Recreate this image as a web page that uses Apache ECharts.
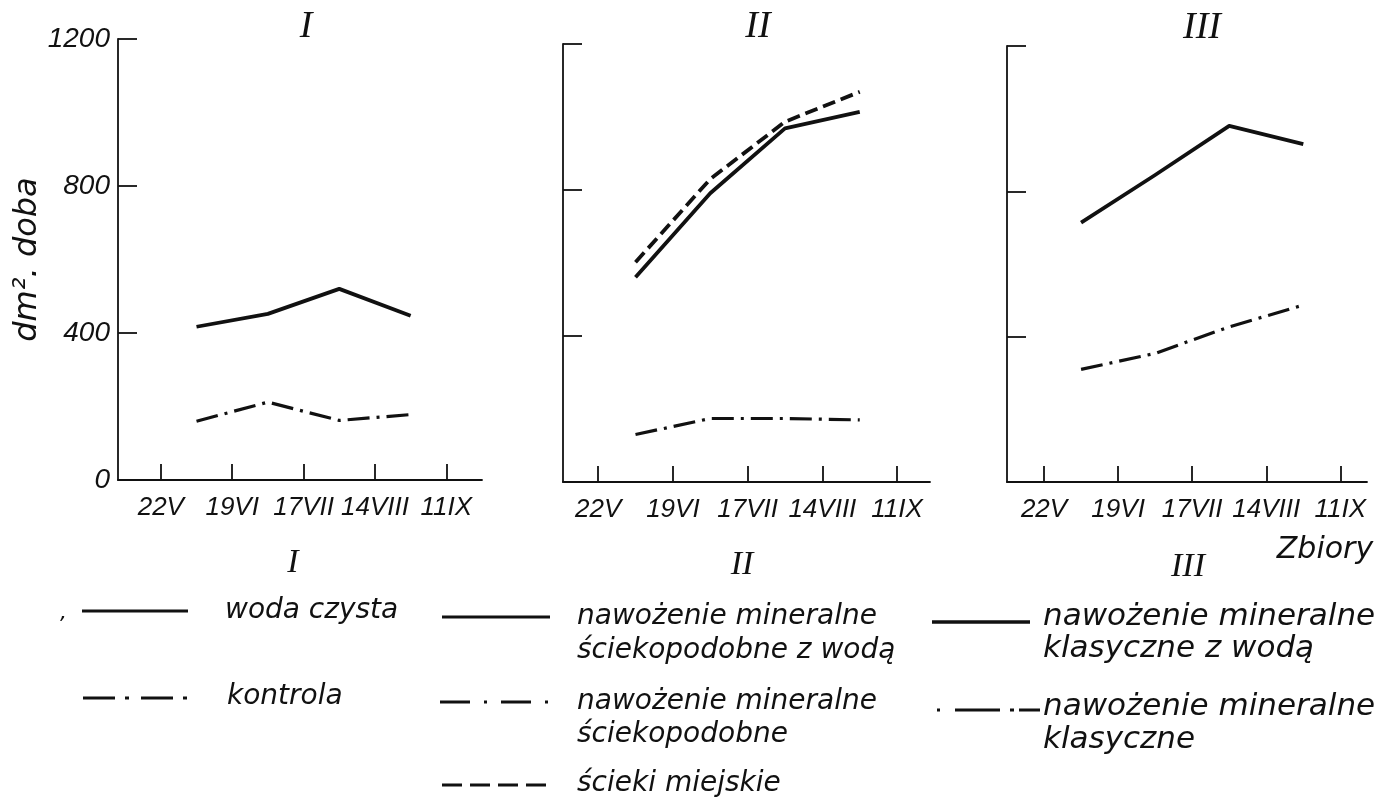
<!DOCTYPE html>
<html>
<head>
<meta charset="utf-8">
<script src="https://cdn.jsdelivr.net/npm/echarts@6/dist/echarts.min.js"></script>
<style>
html,body{margin:0;padding:0;background:#fff;}
#chart{width:1399px;height:807px;}
</style>
</head>
<body>
<div id="chart"></div>
<script>
// ---- data ----
const harvestDates = ['22V', '19VI', '17VII', '14VIII', '11IX'];
const yTicks = [0, 400, 800, 1200];
// values for the 4 periods between successive harvests
const wodaCzysta = [417, 452, 520, 447];
const kontrola = [160, 212, 162, 178];
const sciekopodobneZWoda = [561, 791, 969, 1014];
const sciekopodobne = [130, 174, 174, 170];
const sciekiMiejskie = [602, 830, 987, 1069];
const klasyczneZWoda = [714, 845, 980, 930];
const klasyczne = [310, 354, 427, 487];

// ---- styles ----
const INK = '#111';
const FONT = 'DejaVu Sans';
const NARROW = 'Liberation Sans';
const SERIF = 'Liberation Serif';
const DASHDOT = [22, 7, 3, 7];
const DASHED = [13, 6];

function pts(vals) { return vals.map((v, i) => [i + 1.5, v]); }

const grids = [
  { left: 118, top: 39, width: 364, height: 441, xmin: 0.4, xmax: 5.5 },
  { left: 563, top: 44, width: 367, height: 438, xmin: 0.53, xmax: 5.44 },
  { left: 1007, top: 46, width: 360, height: 436, xmin: 0.5, xmax: 5.36 }
];

const axisLine = { show: true, onZero: false, lineStyle: { color: INK, width: 1.8 } };

const xAxes = grids.map((g, i) => ({
  type: 'value', gridIndex: i, min: g.xmin, max: g.xmax,
  axisLine: axisLine,
  axisTick: { show: true, inside: true, length: 16, customValues: [1, 2, 3, 4, 5], lineStyle: { color: INK, width: 1.8 } },
  axisLabel: {
    customValues: [1, 2, 3, 4, 5],
    formatter: v => harvestDates[Math.round(v) - 1] || '',
    margin: 15, fontSize: 26, fontStyle: 'italic', fontFamily: NARROW, color: INK
  },
  splitLine: { show: false }
}));

const yAxes = grids.map((g, i) => ({
  type: 'value', gridIndex: i, min: 0, max: 1200, interval: 400,
  name: i === 0 ? 'dm\u00B2. doba' : '',
  nameLocation: 'middle', nameRotate: 90, nameGap: 60,
  nameTextStyle: { fontSize: 32, fontStyle: 'italic', fontFamily: FONT, color: INK },
  axisLine: axisLine,
  axisTick: { show: true, inside: true, length: 19, customValues: [400, 800, 1200], lineStyle: { color: INK, width: 1.8 } },
  axisLabel: {
    show: i === 0, customValues: yTicks, margin: 8,
    formatter: v => String(v),
    fontSize: 28, fontStyle: 'italic', fontFamily: NARROW, color: INK
  },
  splitLine: { show: false }
}));

function line(name, vals, gi, type, width) {
  return {
    name: name, type: 'line', xAxisIndex: gi, yAxisIndex: gi,
    data: pts(vals), symbol: 'none', silent: true, animation: false,
    lineStyle: { color: INK, width: width, type: type, cap: 'butt', join: 'round' }
  };
}

const series = [
  line('woda czysta', wodaCzysta, 0, 'solid', 3.8),
  line('kontrola', kontrola, 0, DASHDOT, 3.2),
  line('nawożenie mineralne ściekopodobne z wodą', sciekopodobneZWoda, 1, 'solid', 3.8),
  line('ścieki miejskie', sciekiMiejskie, 1, DASHED, 3.8),
  line('nawożenie mineralne ściekopodobne', sciekopodobne, 1, DASHDOT, 3.2),
  line('nawożenie mineralne klasyczne z wodą', klasyczneZWoda, 2, 'solid', 3.8),
  line('nawożenie mineralne klasyczne', klasyczne, 2, DASHDOT, 3.2)
];

// ---- legend / annotations as graphic ----
function txt(x, y, s, size, opts) {
  opts = opts || {};
  return {
    type: 'text', x: x, y: y, silent: true,
    style: {
      text: s, fill: INK, fontSize: size, fontStyle: 'italic',
      fontFamily: opts.family || FONT,
      align: opts.align || 'left', verticalAlign: 'middle'
    }
  };
}
function seg(x1, x2, y, dash, w) {
  return {
    type: 'line', silent: true,
    shape: { x1: x1, y1: y, x2: x2, y2: y },
    style: { stroke: INK, lineWidth: w || 3, lineDash: dash || null, lineCap: 'butt' }
  };
}

const graphic = [
  // panel titles
  txt(306, 27, 'I', 38, { family: SERIF, align: 'center' }),
  txt(758, 27, 'II', 38, { family: SERIF, align: 'center' }),
  txt(1202, 28, 'III', 38, { family: SERIF, align: 'center' }),
  txt(1325, 550, 'Zbiory', 30, { align: 'center' }),
  // legend headers
  txt(293, 563, 'I', 34, { family: SERIF, align: 'center' }),
  txt(742, 565, 'II', 34, { family: SERIF, align: 'center' }),
  txt(1188, 567, 'III', 34, { family: SERIF, align: 'center' }),
  // group I
  txt(60, 613, ',', 22),
  seg(82, 188, 611, null, 3),
  txt(225, 611, 'woda czysta', 28),
  seg(83, 190, 698, [32, 10, 4, 12], 3),
  txt(227, 697, 'kontrola', 28),
  // group II
  seg(442, 550, 617, null, 3),
  txt(577, 617, 'nawożenie mineralne', 28),
  txt(577, 651, 'ściekopodobne z wodą', 28),
  seg(440, 550, 702, [30, 14, 3, 14], 3),
  txt(577, 702, 'nawożenie mineralne', 28),
  txt(577, 735, 'ściekopodobne', 28),
  seg(442, 546, 785, [20, 8], 3),
  txt(577, 784, 'ścieki miejskie', 28),
  // group III
  seg(932, 1030, 622, null, 3.5),
  txt(1043, 617, 'nawożenie mineralne', 31),
  txt(1043, 649, 'klasyczne z wodą', 31),
  seg(937, 1040, 710, [3, 15, 45, 10, 4, 5, 25, 100], 3),
  txt(1043, 707, 'nawożenie mineralne', 31),
  txt(1043, 740, 'klasyczne', 31)
];

const chart = echarts.init(document.getElementById('chart'), null, { renderer: 'canvas' });
chart.setOption({
  backgroundColor: '#fff',
  animation: false,
  grid: grids.map(g => ({ left: g.left, top: g.top, width: g.width, height: g.height, containLabel: false, outerBoundsMode: 'none' })),
  xAxis: xAxes,
  yAxis: yAxes,
  series: series,
  graphic: graphic
});
</script>
</body>
</html>
